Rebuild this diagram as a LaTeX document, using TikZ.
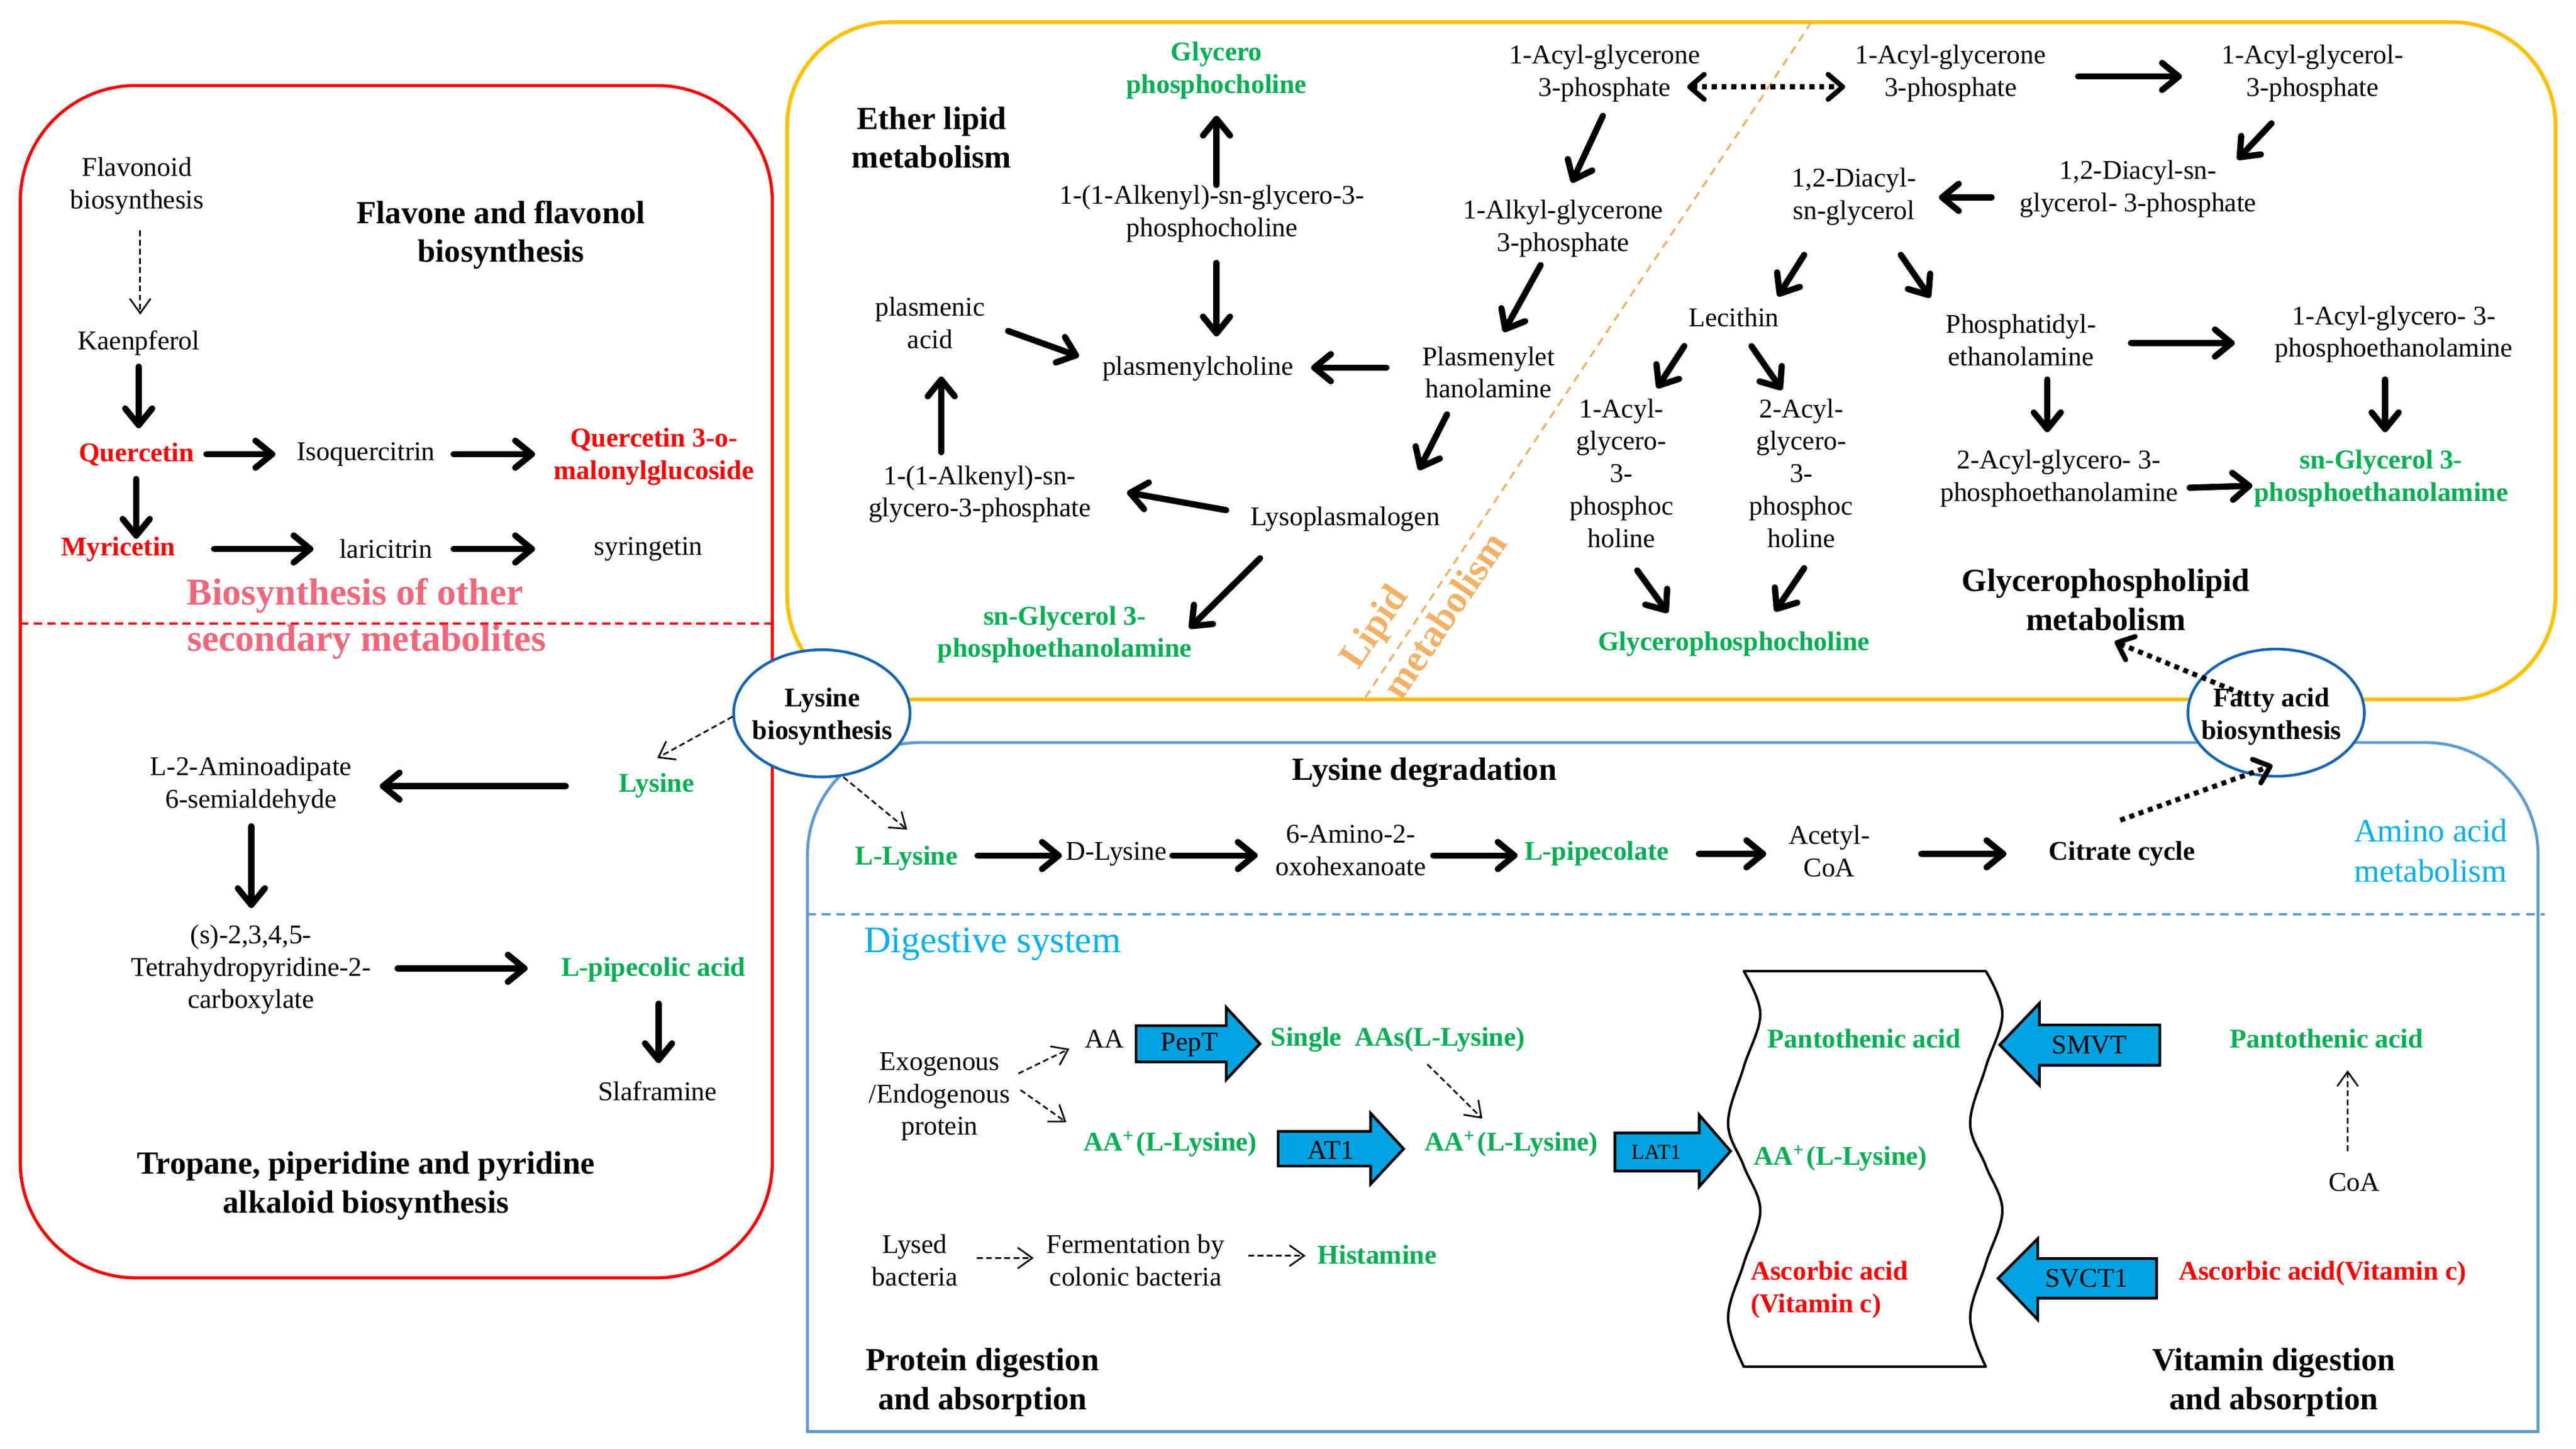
\documentclass[tikz,border=0pt]{standalone}
\usepackage{fontspec}
\setmainfont{Liberation Serif}
\usetikzlibrary{arrows.meta,calc,shapes.geometric}
\definecolor{mygreen}{RGB}{0,176,80}
\definecolor{myred}{RGB}{255,0,0}
\definecolor{mypink}{RGB}{242,102,122}
\definecolor{skyblue}{RGB}{0,176,240}
\definecolor{boxorange}{RGB}{255,192,0}
\definecolor{lipidor}{RGB}{244,176,100}
\definecolor{boxblue}{RGB}{91,155,213}
\definecolor{ellblue}{RGB}{20,100,180}
\definecolor{blockfill}{RGB}{0,163,224}
\begin{document}
\begin{tikzpicture}[x=0.027891cm,y=-0.027891cm,
  txt/.style={font=\fontsize{13}{15.6}\selectfont, align=center, inner sep=0pt},
  bld/.style={txt, font=\fontsize{13}{15.6}\selectfont\bfseries},
  grn/.style={bld, text=mygreen},
  rdt/.style={bld, text=myred},
  ttl/.style={font=\fontsize{15.5}{18.6}\selectfont\bfseries, align=center, inner sep=0pt},
  pinkt/.style={font=\fontsize{18.2}{22}\selectfont\bfseries, text=mypink, inner sep=0pt},
  lipt/.style={font=\fontsize{18.5}{22}\selectfont\bfseries, text=lipidor, inner sep=0pt, rotate=56},
  ellnode/.style={ellipse, draw=ellblue, line width=1.3pt, fill=white, minimum width=2.98cm, minimum height=2.148cm, inner sep=0pt},
  bigarr/.style={line width=3pt, line cap=round, -{Straight Barb[length=8pt,width=13pt,round]}},
  dotarr/.style={line width=2.4pt, dash pattern=on 2.4pt off 2.3pt, -{Straight Barb[length=7pt,width=12pt,round]}},
  dblarr/.style={line width=2.4pt, dash pattern=on 2.4pt off 2.3pt, {Straight Barb[length=7pt,width=12pt,round]}-{Straight Barb[length=7pt,width=12pt,round]}},
  dasharr/.style={line width=0.8pt, dash pattern=on 2.8pt off 1.6pt, -{Straight Barb[length=7pt,width=10pt]}},
  blockarr/.style={draw=black, line width=1.3pt, fill=blockfill, line join=miter},
]
\useasboundingbox (0,0) rectangle (1560,877.33);

% ---------- frames ----------
\draw[myred, line width=1.5pt, rounded corners=1.95cm] (12.3,51.8) rectangle (467.7,773.7);
\draw[myred, line width=1pt, dash pattern=on 4pt off 2.5pt] (12.3,377.6) -- (467.7,377.6);
\draw[boxorange, line width=1.8pt, rounded corners=1.75cm] (476.7,13.4) rectangle (1547.6,423.5);
\draw[lipidor, line width=1pt, dash pattern=on 4pt off 3pt] (1097,13.4) -- (826,423.5);
\draw[boxblue, line width=1.4pt] (489,866.8) -- (489,517.6) .. controls (489,480.1) and (519.5,449.6) .. (557,449.6) -- (1469,449.6) .. controls (1506.5,449.6) and (1537,480.1) .. (1537,517.6) -- (1537,866.8) -- cycle;
\draw[boxblue, line width=1pt, dash pattern=on 4pt off 3pt] (489,553.5) -- (1541,553.5);

% ---------- ellipses ----------
\node[ellnode] (lbio) at (497.7,431.9) {};
\node[bld] (lbiot) at (498,434) {Lysine\\biosynthesis};
\node[ellnode] (fab) at (1378.4,431.5) {};
\node[bld] (fabt) at (1375.5,434) {Fatty acid\\biosynthesis};

% ---------- red panel ----------
\node[txt] (flavo) at (83,112.6) {Flavonoid\\biosynthesis};
\node[txt] (kaen) at (84,207.6) {Kaenpferol};
\node[rdt] (quer) at (82.7,275) {Quercetin};
\node[txt] (isoq) at (221.6,275) {Isoquercitrin};
\node[rdt] (qmal) at (396,276.5) {Quercetin 3-o-\\malonylglucoside};
\node[rdt] (myr) at (71.6,332.4) {Myricetin};
\node[txt] (lari) at (233.7,332.4) {laricitrin};
\node[txt] (syr) at (392.7,332.4) {syringetin};
\node[ttl] (flvt) at (303.4,142.3) {Flavone and flavonol\\biosynthesis};
\node[pinkt] (both1) at (215,360.7) {Biosynthesis of other};
\node[pinkt] (both2) at (222,388.9) {secondary metabolites};
\node[txt] (aad) at (152,475.4) {L-2-Aminoadipate\\6-semialdehyde};
\node[grn] (lys) at (397.6,475.6) {Lysine};
\node[txt] (thp) at (152,587) {(s)-2,3,4,5-\\Tetrahydropyridine-2-\\carboxylate};
\node[grn] (lpip) at (395.7,587) {L-pipecolic acid};
\node[txt] (slaf) at (398.2,660.5) {Slaframine};
\node[ttl] (trop) at (221.6,718) {Tropane, piperidine and pyridine\\alkaloid biosynthesis};

\draw[dasharr] ($(flavo)+(1.9,27)$) -- ($(kaen)+(0.9,-17.1)$);
\draw[bigarr] ($(kaen)+(0,14.4)$) -- ($(quer)+(1.3,-15.7)$);
\draw[bigarr] ($(quer)+(42.3,0)$) -- ($(isoq)+(-54.9,0)$);
\draw[bigarr] ($(isoq)+(53.1,0)$) -- ($(qmal)+(-72,-1.5)$);
\draw[bigarr] ($(quer)+(-0.2,15)$) -- ($(myr)+(10.9,-6.2)$);
\draw[bigarr] ($(myr)+(58,0)$) -- ($(lari)+(-43.9,0)$);
\draw[bigarr] ($(lari)+(41,0)$) -- ($(syr)+(-68.7,0)$);
\draw[bigarr] ($(lys)+(-55,0.4)$) -- ($(aad)+(78,0.6)$);
\draw[bigarr] ($(aad)+(0.2,24.9)$) -- ($(thp)+(0.2,-37.2)$);
\draw[bigarr] ($(thp)+(88.8,-0.7)$) -- ($(lpip)+(-76.2,-0.7)$);
\draw[bigarr] ($(lpip)+(3.1,20.7)$) -- ($(slaf)+(0.6,-16.8)$);
\draw[dasharr] ($(lbio)+(-54,2)$) -- ($(lys)+(0.4,-16.6)$);

% ---------- orange panel ----------
\node[ttl] (ether) at (564.2,83.2) {Ether lipid\\metabolism};
\node[grn] (gpc1) at (736.7,42.75) {Glycero\\phosphocholine};
\node[txt] (alkpc) at (734,129.5) {1-(1-Alkenyl)-sn-glycero-3-\\phosphocholine};
\node[txt] (plc) at (725.4,223.1) {plasmenylcholine};
\node[txt] (pacid) at (563.2,195.5) {plasmenic\\acid};
\node[txt] (alkp) at (593.3,299.2) {1-(1-Alkenyl)-sn-\\glycero-3-phosphate};
\node[txt] (lyso) at (814.6,314.3) {Lysoplasmalogen};
\node[grn] (sngpe1) at (644.8,384.2) {sn-Glycerol 3-\\phosphoethanolamine};
\node[txt] (plas) at (901.4,225.5) {Plasmenylet\\hanolamine};
\node[txt] (alkyl) at (946.7,138.5) {1-Alkyl-glycerone\\3-phosphate};
\node[txt] (acylg1) at (971.8,44.5) {1-Acyl-glycerone\\3-phosphate};
\node[txt] (acylg2) at (1181.3,44.5) {1-Acyl-glycerone\\3-phosphate};
\node[txt] (acylgl) at (1400.4,44.5) {1-Acyl-glycerol-\\3-phosphate};
\node[txt] (dag3p) at (1294.8,114.3) {1,2-Diacyl-sn-\\glycerol- 3-phosphate};
\node[txt] (dag) at (1122.8,119) {1,2-Diacyl-\\sn-glycerol};
\node[txt] (leci) at (1050,192.1) {Lecithin};
\node[txt] (pe) at (1223.9,205.9) {Phosphatidyl-\\ethanolamine};
\node[txt] (lpe1) at (1449.7,202.4) {1-Acyl-glycero- 3-\\phosphoethanolamine};
\node[txt] (lpe2) at (1246.9,289.8) {2-Acyl-glycero- 3-\\phosphoethanolamine};
\node[grn] (sngpe2) at (1442,289.8) {sn-Glycerol 3-\\phosphoethanolamine};
\node[txt] (lpc1) at (982,286.5) {1-Acyl-\\glycero-\\3-\\phosphoc\\holine};
\node[txt] (lpc2) at (1090.8,286.5) {2-Acyl-\\glycero-\\3-\\phosphoc\\holine};
\node[grn] (gpc2) at (1050,389.9) {Glycerophosphocholine};
\node[ttl] (gpl) at (1275.3,363.2) {Glycerophospholipid\\metabolism};
\node[lipt] (lip1) at (833.4,380.4) {Lipid};
\node[lipt] (lip2) at (874.6,372.3) {metabolism};

\draw[bigarr] ($(alkpc)+(2.7,-17.5)$) -- ($(gpc1)+(0,27.35)$);
\draw[bigarr] ($(alkpc)+(2.7,29.7)$) -- ($(plc)+(11.3,-19.4)$);
\draw[bigarr] ($(pacid)+(47.3,4.9)$) -- ($(plc)+(-72,-7.3)$);
\draw[bigarr] ($(alkp)+(-23.3,-25.4)$) -- ($(pacid)+(6.8,32.5)$);
\draw[bigarr] ($(lyso)+(-72,-5.4)$) -- ($(alkp)+(89.2,-1.1)$);
\draw[bigarr] ($(lyso)+(-51.5,23.7)$) -- ($(sngpe1)+(75.5,-3.8)$);
\draw[bigarr] ($(plas)+(-61.8,-2.9)$) -- ($(plc)+(68.6,-0.5)$);
\draw[bigarr] ($(plas)+(-25.1,25.4)$) -- ($(lyso)+(44.6,-29.7)$);
\draw[bigarr] ($(alkyl)+(-13.7,22)$) -- ($(plas)+(9.2,-24.5)$);
\draw[bigarr] ($(acylg1)+(-1.1,25.6)$) -- ($(alkyl)+(5.1,-27.9)$);
\draw[dblarr] ($(acylg1)+(49.9,8.1)$) -- ($(acylg2)+(-63.9,8.1)$);
\draw[bigarr] ($(acylg2)+(77.2,1.8)$) -- ($(acylgl)+(-79.1,1.8)$);
\draw[bigarr] ($(acylgl)+(-24.8,30.2)$) -- ($(dag3p)+(60.2,-17.7)$);
\draw[bigarr] ($(dag3p)+(-88.7,5.2)$) -- ($(dag)+(51.4,0.5)$);
\draw[bigarr] ($(dag)+(-30.2,35.3)$) -- ($(leci)+(26.7,-12.7)$);
\draw[bigarr] ($(dag)+(28.3,35.3)$) -- ($(pe)+(-55,-25.7)$);
\draw[bigarr] ($(pe)+(66.6,1.8)$) -- ($(lpe1)+(-96.4,5.3)$);
\draw[bigarr] ($(pe)+(15.9,23.9)$) -- ($(lpe2)+(-7.1,-28.1)$);
\draw[bigarr] ($(lpe1)+(-5.3,27.4)$) -- ($(sngpe2)+(2.4,-28.1)$);
\draw[bigarr] ($(lpe2)+(79.1,5.5)$) -- ($(sngpe2)+(-78,4.3)$);
\draw[bigarr] ($(leci)+(-30,17.4)$) -- ($(lpc1)+(21.5,-51.5)$);
\draw[bigarr] ($(leci)+(10.7,17.5)$) -- ($(lpc2)+(-11.7,-50.4)$);
\draw[bigarr] ($(lpc1)+(9.5,58.9)$) -- ($(gpc2)+(-40,-18.9)$);
\draw[bigarr] ($(lpc2)+(1.8,57.5)$) -- ($(gpc2)+(24.9,-19.7)$);
\draw[dotarr] ($(fab)+(-20.5,-11.3)$) -- ($(gpl)+(5.3,25.3)$);

% ---------- blue panel ----------
\node[ttl] (ldeg) at (862.7,467.8) {Lysine degradation};
\node[grn] (llys) at (549,519.7) {L-Lysine};
\node[txt] (dlys) at (676,517) {D-Lysine};
\node[txt] (amino) at (818,515) {6-Amino-2-\\oxohexanoate};
\node[grn] (lpipe) at (967,517) {L-pipecolate};
\node[txt] (acoa) at (1107.8,515.3) {Acetyl-\\CoA};
\node[bld] (cit) at (1285,517) {Citrate cycle};
\node[font=\fontsize{15.7}{19.2}\selectfont, text=skyblue, align=center, inner sep=0pt] (aam) at (1472,515) {Amino acid\\metabolism};
\node[font=\fontsize{18}{21.6}\selectfont, text=skyblue, inner sep=0pt] (dig) at (601,571.5) {Digestive system};

\draw[dasharr] ($(lbio)+(13,38.6)$) -- ($(llys)+(0.4,-17.4)$);
\draw[bigarr] ($(llys)+(43,-1.7)$) -- ($(dlys)+(-33,1)$);
\draw[bigarr] ($(dlys)+(34,1)$) -- ($(amino)+(-56.4,3)$);
\draw[bigarr] ($(amino)+(50,3)$) -- ($(lpipe)+(-48,1)$);
\draw[bigarr] ($(lpipe)+(61.8,0)$) -- ($(acoa)+(-38.2,1.7)$);
\draw[bigarr] ($(acoa)+(55.7,1.7)$) -- ($(cit)+(-70,0)$);
\draw[dotarr] ($(cit)+(-1,-20.4)$) -- ($(fab)+(-2.1,31.9)$);

\node[txt] (exo) at (569,664) {Exogenous\\/Endogenous\\protein};
\node[txt] (aa) at (668.8,629) {AA};
\node[grn] (single) at (846.6,629.6) {Single\ \ AAs(L-Lysine)};
\node[grn] (aap1) at (708.7,692.6) {AA\textsuperscript{+}\kern1pt(L-Lysine)};
\node[grn] (aap2) at (915.2,692.6) {AA\textsuperscript{+}\kern1pt(L-Lysine)};
\node[txt] (lysed) at (554,763) {Lysed\\bacteria};
\node[txt] (ferm) at (687.7,763) {Fermentation by\\colonic bacteria};
\node[grn] (hist) at (834,759.8) {Histamine};
\node[ttl] (pda) at (595,837) {Protein digestion\\and absorption};
\node[ttl] (vda) at (1377,837) {Vitamin digestion\\and absorption};

\draw[dasharr] ($(exo)+(47.7,-14)$) -- ($(aa)+(-21.2,6)$);
\draw[dasharr] ($(exo)+(49,-4)$) -- ($(aap1)+(-62.9,-13.1)$);
\draw[dasharr] ($(single)+(17.8,14.8)$) -- ($(aap2)+(-17.5,-15.3)$);
\draw[dasharr] ($(lysed)+(37.6,-1.3)$) -- ($(ferm)+(-61.7,-1.3)$);
\draw[dasharr] ($(ferm)+(68.3,-2.7)$) -- ($(hist)+(-43.4,0.5)$);

% wavy membrane
\draw[line width=1.2pt, line join=round]
  plot[smooth, tension=0.6] coordinates {(1056,588) (1066,614) (1056,646) (1046.5,680) (1056,706) (1066,733) (1056,765) (1046.5,798) (1056,827.5)}
  -- plot[smooth, tension=0.6] coordinates {(1202.6,827.5) (1193.1,798) (1202.6,765) (1212.6,733) (1202.6,706) (1193.1,680) (1202.6,646) (1212.6,614) (1202.6,588)}
  -- cycle;
\node[grn] (pan1) at (1129,629) {Pantothenic acid};
\node[grn] (aap3) at (1114.6,701.2) {AA\textsuperscript{+}\kern1pt(L-Lysine)};
\node[rdt, align=left, anchor=west] (asc1) at (1060,781) {Ascorbic acid\\(Vitamin c)};

\node[grn] (pan2) at (1409,629) {Pantothenic acid};
\node[txt] (coa) at (1425.6,716) {CoA};
\node[rdt] (asc2) at (1406.5,771) {Ascorbic acid(Vitamin c)};
\draw[dasharr] ($(coa)+(-3.9,-19)$) -- ($(pan2)+(12.7,19)$);

% block arrows
\draw[blockarr] (688,621) -- (742.6,621) -- (742.6,610) -- (763,632) -- (742.6,653.7) -- (742.6,643) -- (688,643) -- cycle;
\node[txt] (peptl) at (720.3,632.6) {PepT};
\draw[blockarr] (774,685) -- (830,685) -- (830,674) -- (850,695.6) -- (830,717) -- (830,706) -- (774,706) -- cycle;
\node[txt] (at1l) at (806,696.3) {AT1};
\draw[blockarr] (978,686) -- (1029,686) -- (1029,675) -- (1048,697) -- (1029,718.5) -- (1029,709) -- (978,709) -- cycle;
\node[txt, font=\fontsize{10.2}{12}\selectfont] (lat1l) at (1003,697.5) {LAT1};
\draw[blockarr] (1308,620.6) -- (1235,620.6) -- (1235,607.5) -- (1211,632.6) -- (1235,657) -- (1235,645) -- (1308,645) -- cycle;
\node[txt] (smvtl) at (1265.3,632.6) {SMVT};
\draw[blockarr] (1306,762) -- (1234,762) -- (1234,750) -- (1210,774) -- (1234,799) -- (1234,786) -- (1306,786) -- cycle;
\node[txt] (svctl) at (1263.6,774) {SVCT1};
\end{tikzpicture}
\end{document}
